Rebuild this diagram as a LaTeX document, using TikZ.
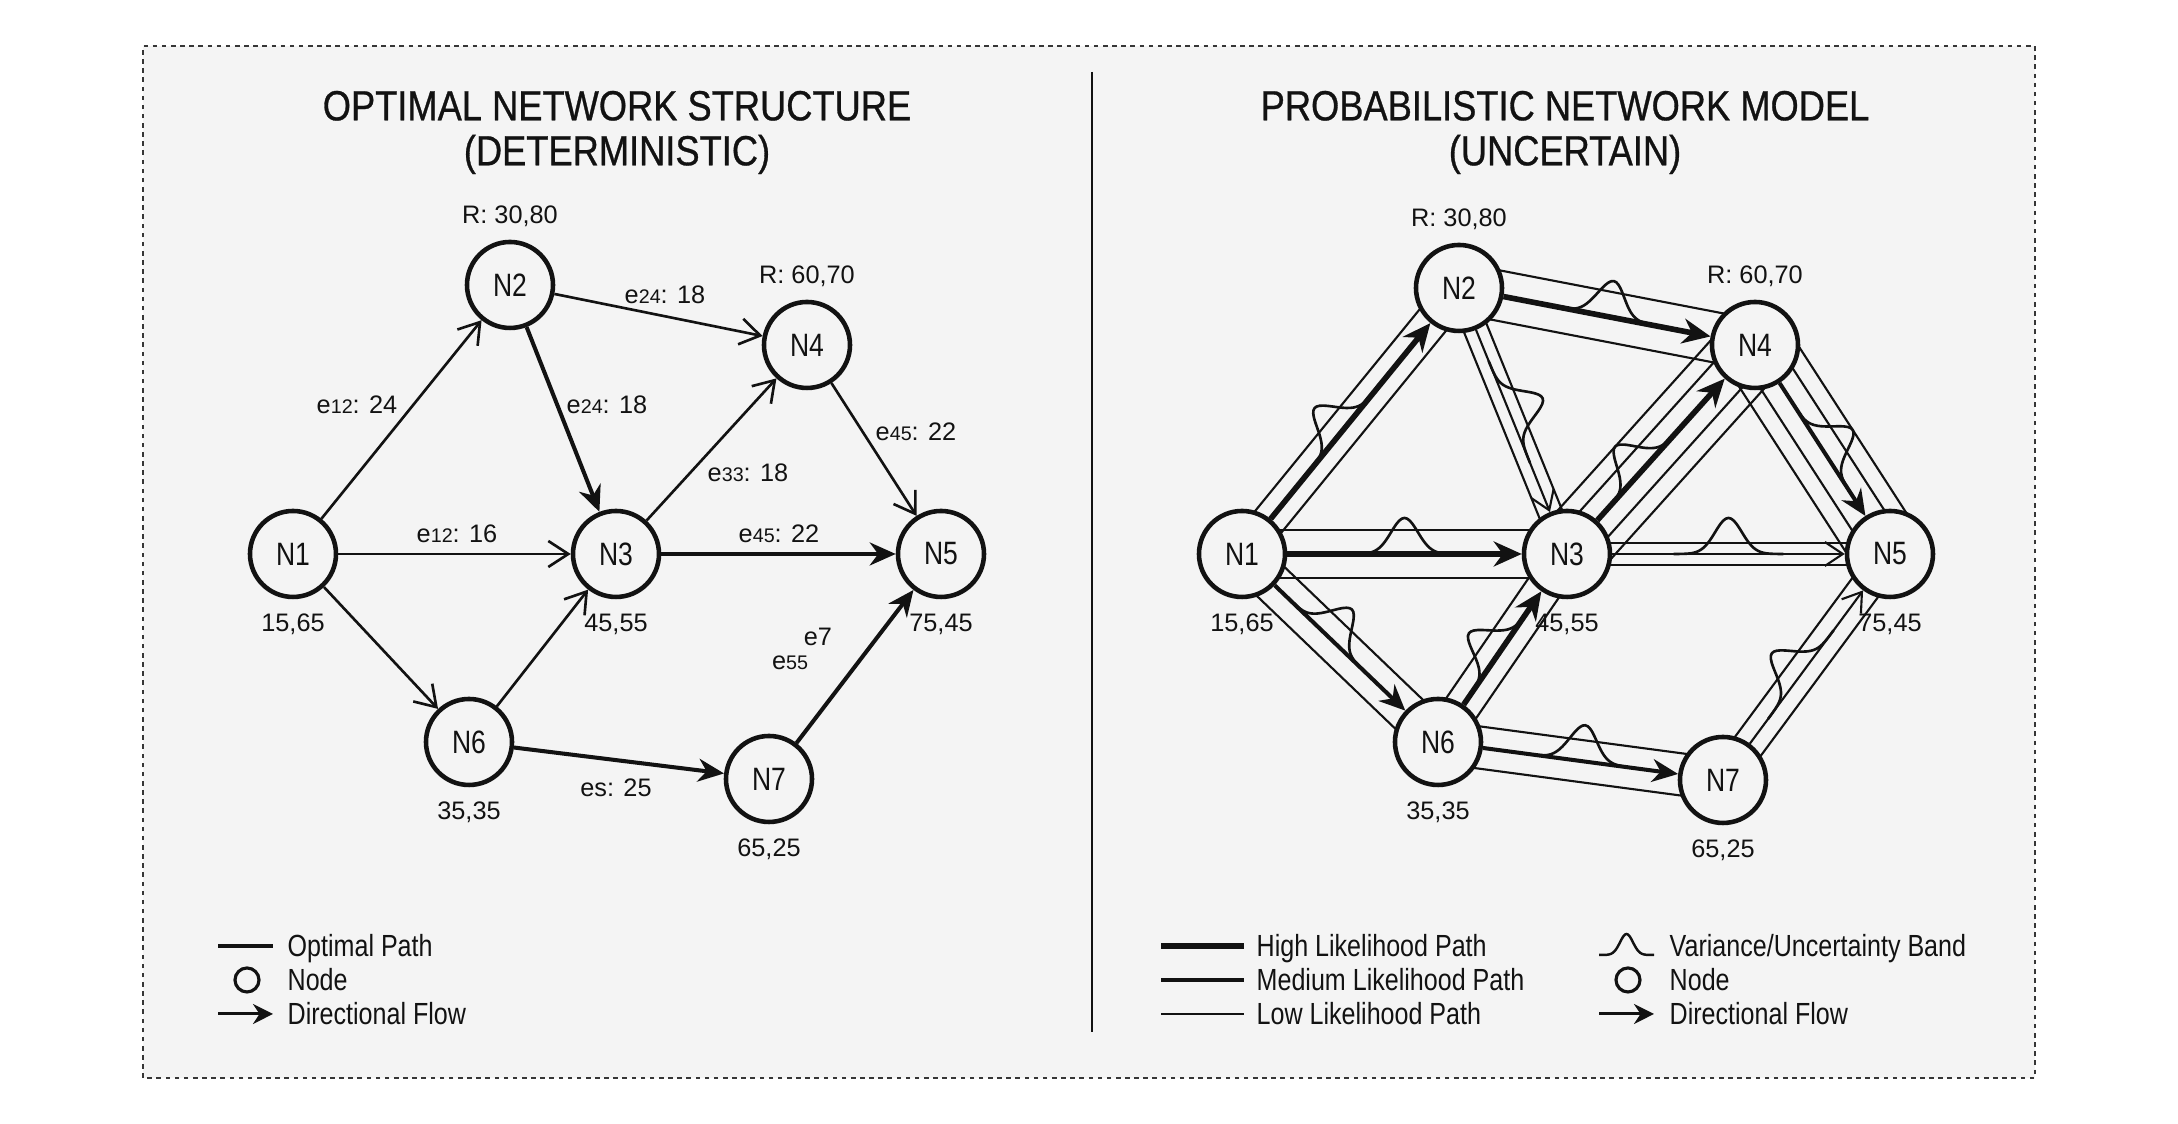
\documentclass[tikz,border=0pt]{standalone}
\usepackage{fontspec}
\setmainfont{Liberation Sans}
\newfontfamily\condfont[FakeStretch=0.82]{Liberation Sans}
\newfontfamily\titlefont[FakeStretch=0.86, FakeBold=0.7]{Liberation Sans}
\usetikzlibrary{arrows.meta, calc, decorations.markings, positioning}
\pgfdeclarelayer{paperlayer}
\pgfdeclarelayer{edgelayer}
\pgfsetlayers{paperlayer,edgelayer,main}
\definecolor{paper}{RGB}{244,244,244}
\definecolor{ink}{RGB}{18,18,18}
\newcommand{\esub}[1]{{\fontsize{5.6}{6}\selectfont #1}}

\begin{document}
\begin{tikzpicture}[
    node_style/.style={circle, draw=ink, line width=1.3pt, fill=paper, minimum size=8.6mm, inner sep=0pt, text=ink, font=\condfont\fontsize{9.2}{10}\selectfont},
    coord_style/.style={inner sep=0pt, text=ink, font=\fontsize{7.2}{8}\selectfont},
    title_style/.style={align=center, text=ink, font=\titlefont\fontsize{12}{12.8}\selectfont},
    legend_style/.style={anchor=base west, inner sep=0pt, text=ink, font=\condfont\fontsize{8.7}{10}\selectfont},
    thin_flow/.style={draw=ink, line width=0.75pt, -{Straight Barb[length=2mm, width=2.6mm]}},
    bold_flow/.style={draw=ink, line width=1.15pt, -{Stealth[length=2.6mm, width=2.3mm]}},
    band_style/.style={draw=ink, line width=0.6pt},
    high_path/.style={draw=ink, line width=1.6pt, -{Stealth[length=2.8mm, width=2.5mm]}},
    medium_path/.style={draw=ink, line width=1.15pt, -{Stealth[length=2.6mm, width=2.3mm]}},
    low_path/.style={draw=ink, line width=0.6pt, -{Straight Barb[length=1.8mm, width=2.4mm]}},
    bell/.style={postaction={decorate, decoration={markings, mark=at position #1 with {\draw[ink, line width=0.75pt, -] plot[domain=-0.55:0.55, samples=45, smooth] (\x, {0.36*exp(-28*(\x)*(\x))});}}}}
]
\useasboundingbox (0,0) rectangle (21.78,11.24);
\begin{pgfonlayer}{paperlayer}
    \fill[white] (0,0) rectangle (21.78,11.24);
    \fill[paper] (1.43,0.46) rectangle (20.35,10.78);
\end{pgfonlayer}
\draw[ink!85, line width=0.55pt, dash pattern=on 1.3pt off 1.3pt] (1.43,0.46) rectangle (20.35,10.78);
\draw[ink, line width=0.75pt] (10.92,10.52) -- (10.92,0.92);

% Deterministic network
\node[title_style] (title1) at (6.17,9.915) {OPTIMAL NETWORK STRUCTURE\\(DETERMINISTIC)};
\foreach \n/\x/\y in {1/2.93/5.70, 2/5.10/8.39, 3/6.16/5.70, 4/8.07/7.79, 5/9.41/5.70, 6/4.69/3.82, 7/7.69/3.45}
    \node[node_style] (a\n) at (\x,\y) {N\n};
\begin{pgfonlayer}{edgelayer}
\foreach \s/\t/\st in {1/2/thin_flow, 1/3/thin_flow, 1/6/thin_flow, 2/3/bold_flow, 2/4/thin_flow, 3/4/thin_flow, 4/5/thin_flow, 3/5/bold_flow, 6/3/thin_flow, 6/7/bold_flow, 7/5/bold_flow}
    \draw[\st] (a\s) -- (a\t);
\end{pgfonlayer}
\node[coord_style, above=1.2mm of a2] (ra2) {R: 30,80};
\node[coord_style, above=1.2mm of a4] (ra4) {R: 60,70};
\node[coord_style, below=1.4mm of a1] (ca1) {15,65};
\node[coord_style, below=1.4mm of a3] (ca3) {45,55};
\node[coord_style, below=1.4mm of a5] (ca5) {75,45};
\node[coord_style, below=1.4mm of a6] (ca6) {35,35};
\node[coord_style, below=1.4mm of a7] (ca7) {65,25};
\node[coord_style] (ea12) at (3.57,7.19) {e\esub{12}: 24};
\node[coord_style] (ea23) at (6.07,7.19) {e\esub{24}: 18};
\node[coord_style] (ea24) at (6.65,8.29) {e\esub{24}: 18};
\node[coord_style] (ea34) at (7.48,6.51) {e\esub{33}: 18};
\node[coord_style] (ea45) at (9.16,6.92) {e\esub{45}: 22};
\node[coord_style] (ea13) at (4.57,5.90) {e\esub{12}: 16};
\node[coord_style] (ea35) at (7.79,5.90) {e\esub{45}: 22};
\node[coord_style] (ea67) at (6.16,3.36) {es: 25};
\node[coord_style] (ea75) at (8.18,4.87) {e7};
\node[coord_style] (ea75b) at (7.90,4.61) {e\esub{55}};

% Probabilistic network
\node[title_style] (title2) at (15.65,9.915) {PROBABILISTIC NETWORK MODEL\\(UNCERTAIN)};
\foreach \n/\x/\y in {1/12.42/5.70, 2/14.59/8.36, 3/15.67/5.70, 4/17.55/7.79, 5/18.90/5.70, 6/14.38/3.82, 7/17.23/3.44}
    \node[node_style] (b\n) at (\x,\y) {N\n};
\begin{pgfonlayer}{edgelayer}
% variance bands
\foreach \s/\t/\d in {1/2/0.17cm, 2/4/0.25cm, 1/3/0.24cm, 3/4/0.19cm, 3/4/0.36cm, 6/3/0.18cm, 1/6/0.2cm, 4/5/0.19cm, 4/5/0.36cm, 6/7/0.21cm, 2/3/0.12cm, 3/5/0.11cm, 7/5/0.16cm} {
    \draw[band_style] ($(b\s)!\d!90:(b\t)$) -- ($(b\t)!\d!-90:(b\s)$);
    \draw[band_style] ($(b\s)!\d!-90:(b\t)$) -- ($(b\t)!\d!90:(b\s)$);
}
% likelihood paths
\foreach \s/\t/\st/\q in {1/2/high_path/0.45, 2/4/high_path/0.5, 1/3/high_path/0.5, 3/4/high_path/0.35, 6/3/high_path/0.45, 1/6/medium_path/0.4, 4/5/medium_path/0.5, 6/7/medium_path/0.5, 2/3/low_path/0.45, 3/5/low_path/0.5, 7/5/low_path/0.45}
    \draw[\st, bell=\q] (b\s) -- (b\t);
\end{pgfonlayer}
\node[coord_style, above=1.2mm of b2] (rb2) {R: 30,80};
\node[coord_style, above=1.2mm of b4] (rb4) {R: 60,70};
\node[coord_style, below=1.4mm of b1] (cb1) {15,65};
\node[coord_style, below=1.4mm of b3] (cb3) {45,55};
\node[coord_style, below=1.4mm of b5] (cb5) {75,45};
\node[coord_style, below=1.4mm of b6] (cb6) {35,35};
\node[coord_style, below=1.4mm of b7] (cb7) {65,25};

% Legends
\coordinate (la1) at (2.18,1.78);
\coordinate (la2) at (2.47,1.44);
\coordinate (la3) at (2.18,1.10);
\draw[ink, line width=1.1pt] (la1) -- ++(0.55,0);
\draw[ink, line width=0.9pt] (la2) circle (0.12);
\draw[ink, line width=0.85pt, -{Stealth[length=2mm, width=2mm]}] (la3) -- ++(0.55,0);
\node[legend_style] (lta1) at (2.87,1.67) {Optimal Path};
\node[legend_style] (lta2) at (2.87,1.33) {Node};
\node[legend_style] (lta3) at (2.87,0.99) {Directional Flow};

\coordinate (lb1) at (11.61,1.78);
\coordinate (lb2) at (11.61,1.44);
\coordinate (lb3) at (11.61,1.10);
\draw[ink, line width=1.9pt] (lb1) -- ++(0.83,0);
\draw[ink, line width=1.4pt] (lb2) -- ++(0.83,0);
\draw[ink, line width=0.55pt] (lb3) -- ++(0.83,0);
\node[legend_style] (ltb1) at (12.56,1.67) {High Likelihood Path};
\node[legend_style] (ltb2) at (12.56,1.33) {Medium Likelihood Path};
\node[legend_style] (ltb3) at (12.56,0.99) {Low Likelihood Path};

\coordinate (lc1) at (16.265,1.69);
\coordinate (lc2) at (16.28,1.44);
\coordinate (lc3) at (15.99,1.10);
\draw[ink, line width=0.7pt, shift={(lc1)}] plot[domain=-0.275:0.275, samples=41, smooth] (\x, {0.21*exp(-120*(\x)*(\x))});
\draw[ink, line width=0.9pt] (lc2) circle (0.12);
\draw[ink, line width=0.85pt, -{Stealth[length=2mm, width=2mm]}] (lc3) -- ++(0.55,0);
\node[legend_style] (ltc1) at (16.69,1.67) {Variance/Uncertainty Band};
\node[legend_style] (ltc2) at (16.69,1.33) {Node};
\node[legend_style] (ltc3) at (16.69,0.99) {Directional Flow};
\end{tikzpicture}
\end{document}
